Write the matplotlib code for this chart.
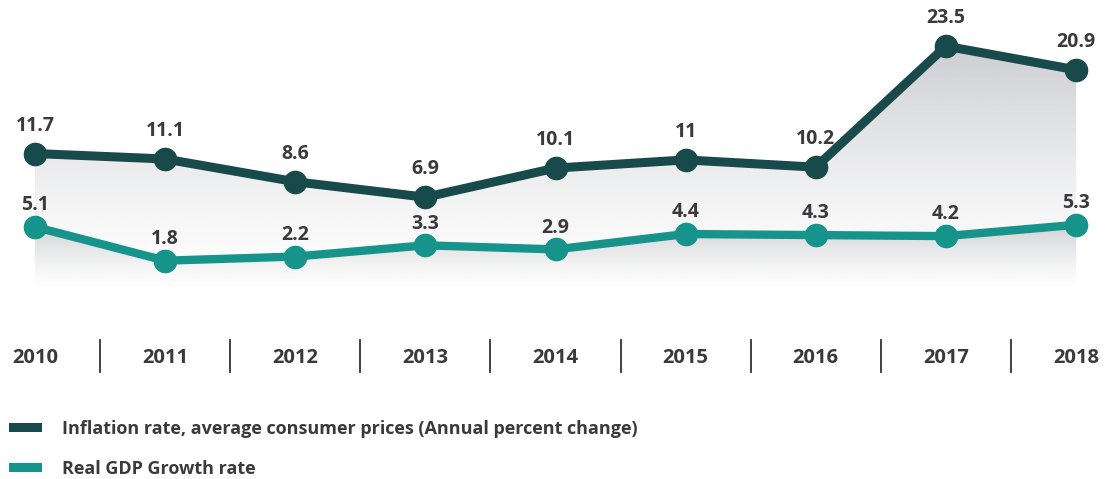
import matplotlib
matplotlib.use("Agg")
import matplotlib.pyplot as plt
import matplotlib.transforms as mtransforms
from matplotlib.patches import Polygon, Patch
from matplotlib.colors import to_rgb
import numpy as np

years = ["2010", "2011", "2012", "2013", "2014", "2015", "2016", "2017", "2018"]
inflation = [11.7, 11.1, 8.6, 6.9, 10.1, 11, 10.2, 23.5, 20.9]
gdp = [5.1, 1.8, 2.2, 3.3, 2.9, 4.4, 4.3, 4.2, 5.3]
inflation_lbl = ["11.7", "11.1", "8.6", "6.9", "10.1", "11", "10.2", "23.5", "20.9"]
gdp_lbl = ["5.1", "1.8", "2.2", "3.3", "2.9", "4.4", "4.3", "4.2", "5.3"]
legend_names = ["Inflation rate, average consumer prices (Annual percent change)",
                "Real GDP Growth rate"]

c_inf = "#184a4b"
c_gdp = "#16938b"
c_txt = "#3a3a3c"
font = "Open Sans"
plt.rcParams["font.family"] = [font, "DejaVu Sans"]

W, H = 1107, 479
fig = plt.figure(figsize=(W / 100, H / 100), dpi=100)
rect = [0, (H - 300) / H, 1, 300 / H]
ax = fig.add_axes(rect)            # inflation
ax2 = fig.add_axes(rect)           # gdp, own scale
for a in (ax, ax2):
    a.axis("off")
    a.patch.set_alpha(0)

x = np.arange(len(years))
pxu = (1076 - 35) / 8
xlim = (-35 / pxu, 8 + 31 / pxu)

# pixel row = zero_px - scale * value
scales = {"inf": (260.0, 9.1), "gdp": (279.1, 10.24)}


def lim(key):
    z, s = scales[key]
    return (z - 300) / s, z / s


def base_of(key):
    z, s = scales[key]
    return (z - 290) / s


def grad_fill(a, xs, ys, base, top_alpha, z):
    ymax = max(ys)
    f = np.linspace(0, 1, 256)[:, None]
    rgba = np.zeros((256, 1, 4))
    rgba[..., :3] = to_rgb("#9a9ca3")
    rgba[..., 3] = top_alpha * f ** 1.4
    im = a.imshow(rgba, extent=[xs[0], xs[-1], base, ymax], origin="lower",
                  aspect="auto", zorder=z, interpolation="bilinear")
    verts = [(xs[0], base)] + list(zip(xs, ys)) + [(xs[-1], base)]
    poly = Polygon(verts, closed=True, facecolor="none", edgecolor="none")
    a.add_patch(poly)
    im.set_clip_path(poly)


grad_fill(ax, x, inflation, base_of("inf"), 0.5, 1)
grad_fill(ax2, x, gdp, base_of("gdp"), 0.4, 1)

ax.plot(x, inflation, color=c_inf, lw=6.5, marker="o", ms=16, zorder=5)
ax2.plot(x, gdp, color=c_gdp, lw=6, marker="o", ms=16, zorder=5)

for a, vals, lbls, off in ((ax, inflation, inflation_lbl, 16.5),
                           (ax2, gdp, gdp_lbl, 12.0)):
    for xi, v, t in zip(x, vals, lbls):
        a.annotate(t, (xi, v), xytext=(0, off), textcoords="offset points",
                   ha="center", va="baseline", fontsize=14, fontweight="bold",
                   color=c_txt, zorder=6)

ax.set_xlim(*xlim)
ax2.set_xlim(*xlim)
ax.set_ylim(*lim("inf"))
ax2.set_ylim(*lim("gdp"))

# year labels and separators below the plot
tr = mtransforms.blended_transform_factory(ax.transData, fig.transFigure)
for xi, yr in zip(x, years):
    ax.text(xi, 1 - 358 / H, yr, transform=tr, ha="center", va="center",
            fontsize=14.5, fontweight="bold", color=c_txt, clip_on=False)
for xi in x[:-1]:
    ax.plot([xi + 0.5, xi + 0.5], [1 - 340 / H, 1 - 372 / H], transform=tr,
            color="#333333", lw=1.3, clip_on=False)

handles = [Patch(facecolor=c_inf, edgecolor="none"),
           Patch(facecolor=c_gdp, edgecolor="none")]
fig.legend(handles, legend_names, loc="upper left",
           bbox_to_anchor=(2 / W, 1 - 413 / H), frameon=False,
           prop={"family": font, "weight": "bold", "size": 13},
           labelcolor=c_txt, handlelength=1.8, handleheight=0.35,
           handletextpad=1.1, labelspacing=1.2, borderaxespad=0)

fig.savefig("out.png", dpi=100)
